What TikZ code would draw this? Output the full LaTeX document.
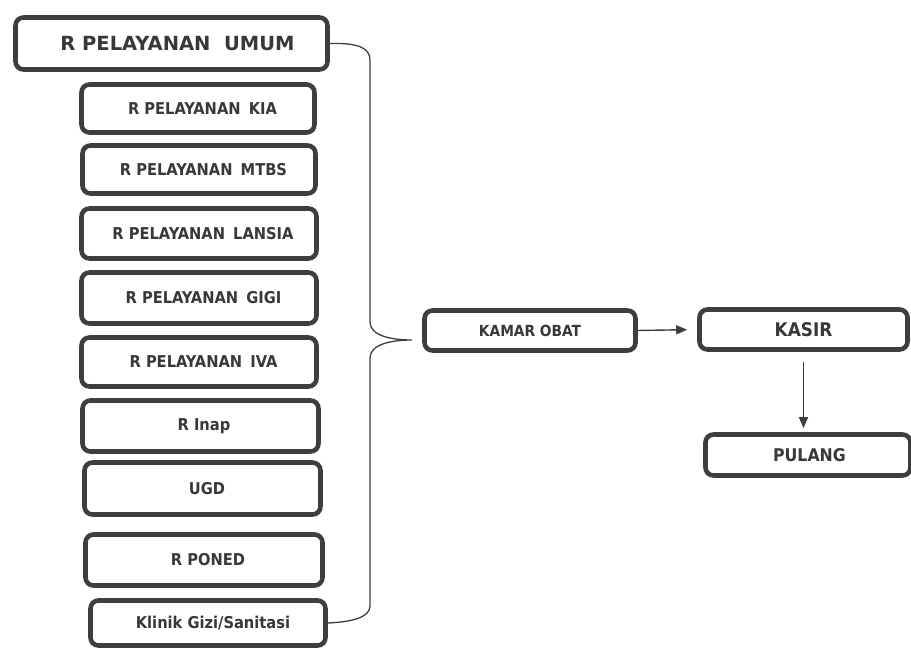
\documentclass[tikz,border=0pt]{standalone}
\usepackage{fontspec}
\setmainfont{DejaVu Sans}
\newfontfamily\condfont{DejaVu Sans Condensed}
\usetikzlibrary{arrows.meta}
\definecolor{edge}{HTML}{3E3E3E}
\definecolor{ink}{HTML}{383838}
\begin{document}
\begin{tikzpicture}[x=1pt,y=-1pt,
  box/.style={draw=edge, line width=4.6pt, rounded corners=8pt, fill=white,
    text=ink, font=\condfont\bfseries\fontsize{16.3}{18}\selectfont, inner sep=0pt},
  nudge/.style={execute at begin node={\hspace*{#1}}},
  brace/.style={draw=edge, line width=1.3pt},
  arr/.style={draw=edge, line width=1.4pt, -{Triangle[length=11pt,width=9pt]}}]
\useasboundingbox (0,0) rectangle (911,650);
\fill[white] (0,0) rectangle (911,650);

\node[box, nudge=12pt, minimum width=312pt, minimum height=52pt, font=\bfseries\fontsize{19.5}{21}\selectfont] (umum) at (171.5,43.5) {R PELAYANAN\hspace{0.7em}UMUM};
\node[box, nudge=9pt, minimum width=233pt, minimum height=48pt] (kia) at (198,108.5) {R PELAYANAN\hspace{0.5em}KIA};
\node[box, nudge=9pt, minimum width=233pt, minimum height=48pt] (mtbs) at (199,169.5) {R PELAYANAN\hspace{0.5em}MTBS};
\node[box, nudge=8pt, minimum width=235pt, minimum height=50pt] (lansia) at (199,233.5) {R PELAYANAN\hspace{0.5em}LANSIA};
\node[box, nudge=9pt, minimum width=235pt, minimum height=51pt] (gigi) at (199,298) {R PELAYANAN\hspace{0.5em}GIGI};
\node[box, nudge=9pt, minimum width=235pt, minimum height=49pt] (iva) at (199,362) {R PELAYANAN\hspace{0.5em}IVA};
\node[box, nudge=7pt, minimum width=236pt, minimum height=51pt] (inap) at (200.5,426) {R Inap};
\node[box, nudge=9pt, minimum width=236pt, minimum height=52pt] (ugd) at (202.5,488.5) {UGD};
\node[box, nudge=8pt, minimum width=237pt, minimum height=51pt] (poned) at (204,560) {R PONED};
\node[box, nudge=10pt, minimum width=235pt, minimum height=45pt] (klinik) at (208,623) {Klinik Gizi/Sanitasi};

\node[box, minimum width=211pt, minimum height=40pt, font=\condfont\bfseries\fontsize{15.3}{17}\selectfont] (kamar) at (530,330.5) {KAMAR OBAT};
\node[box, minimum width=208pt, minimum height=40pt, font=\condfont\bfseries\fontsize{18.8}{20}\selectfont] (kasir) at (803.5,329.5) {KASIR};
\node[box, nudge=3pt, minimum width=205pt, minimum height=41pt, font=\condfont\bfseries\fontsize{17.5}{19}\selectfont] (pulang) at (808,455) {PULANG};

\coordinate (tip) at (412,340);
\draw[brace] (umum.east) -- ++(3,0) .. controls (358,43) and (370,48) .. (370,60)
  -- (370,322) .. controls (370,336) and (392,340) .. (tip)
  .. controls (392,340) and (370,344) .. (370,358)
  -- (370,606) .. controls (370,618) and (350,622) .. (klinik.east);

\draw[arr, shorten >=10pt] (kamar.east) -- (kasir.west);
\draw[arr, shorten <=10pt, shorten >=4pt] (kasir.south) -- (kasir.south |- pulang.north);
\end{tikzpicture}
\end{document}
